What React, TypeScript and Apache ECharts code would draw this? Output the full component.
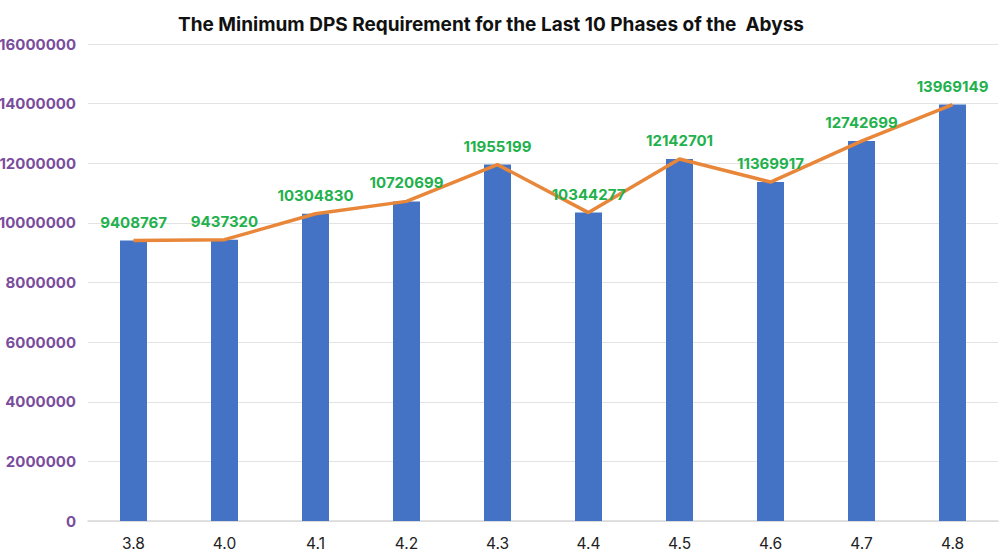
import React, { useEffect, useRef } from "react";
import * as echarts from "echarts";

const categories = ["3.8", "4.0", "4.1", "4.2", "4.3", "4.4", "4.5", "4.6", "4.7", "4.8"];
const dpsValues = [9408767, 9437320, 10304830, 10720699, 11955199, 10344277, 12142701, 11369917, 12742699, 13969149];
const titleText = "The Minimum DPS Requirement for the Last 10 Phases of the  Abyss";

export default function App() {
  const ref = useRef<HTMLDivElement>(null);
  useEffect(() => {
    const chart = echarts.init(ref.current!, null, { renderer: "svg" });
    chart.setOption({
      animation: false,
      backgroundColor: "#ffffff",
      title: {
        text: titleText,
        left: 486,
        textAlign: "center",
        top: 10,
        textStyle: { fontFamily: "Inter", fontWeight: "bold", fontSize: 19, color: "#111" },
      },
      grid: { left: 88, right: 2, top: 44, bottom: 39, containLabel: false, outerBoundsMode: "none" },
      xAxis: {
        type: "category",
        data: categories,
        axisTick: { show: false },
        axisLine: { lineStyle: { color: "#d9d9d9", width: 1.5 } },
        axisLabel: { color: "#222", fontSize: 15.5, fontFamily: "Inter", margin: 14 },
      },
      yAxis: {
        type: "value",
        min: 0,
        max: 16000000,
        interval: 2000000,
        axisLine: { show: false },
        axisTick: { show: false },
        splitLine: { lineStyle: { color: "#e3e3e3", width: 1.2 } },
        axisLabel: {
          color: "#7a4c9e",
          fontSize: 15,
          fontWeight: "bold",
          fontFamily: "Inter",
          margin: 12,
          formatter: (v: number) => String(v),
        },
      },
      series: [
        {
          type: "bar",
          data: dpsValues,
          barWidth: 27,
          itemStyle: { color: "#4472c4" },
        },
        {
          type: "line",
          data: dpsValues,
          symbol: "circle",
          symbolSize: 0,
          lineStyle: { color: "#e8873a", width: 3.5 },
          itemStyle: { color: "#e8873a" },
          label: {
            show: true,
            position: "top",
            distance: 11,
            color: "#22b14c",
            fontWeight: "bold",
            fontSize: 15,
            fontFamily: "Inter",
          },
          z: 3,
        },
      ],
    });
    return () => chart.dispose();
  }, []);
  return <div ref={ref} style={{ position: "fixed", left: 0, top: 0, width: 1000, height: 560 }} />;
}
